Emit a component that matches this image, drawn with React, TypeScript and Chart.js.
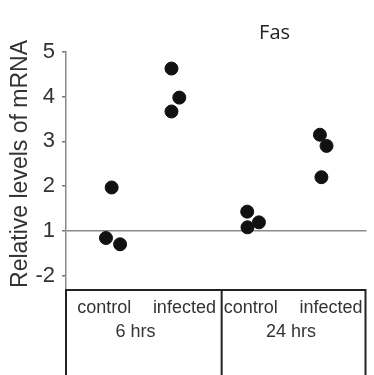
import React, { useEffect, useRef } from "react";
import { Chart, registerables } from "chart.js";

Chart.register(...registerables);

// y tick values and their shown labels (value 0 is shown as "-2", fold-change style)
const yTickValues = [0, 1, 2, 3, 4, 5];
const yTickLabels = ["-2", "1", "2", "3", "4", "5"];

// data points (x = jittered position along the group axis, y = relative level)
const ctrl6X = [1.52, 1.33, 1.8];
const ctrl6Y = [1.97, 0.84, 0.7];
const inf6X = [3.51, 3.77, 3.51];
const inf6Y = [4.63, 3.98, 3.67];
const ctrl24X = [6.03, 6.04, 6.42];
const ctrl24Y = [1.43, 1.08, 1.19];
const inf24X = [8.45, 8.67, 8.5];
const inf24Y = [3.15, 2.9, 2.2];

// category labels under the plot
const groupLabels = ["control", "infected", "control", "infected"];
const groupLabelX = [1.27, 3.94, 6.15, 8.82];
const timeLabels = ["6 hrs", "24 hrs"];
const timeLabelX = [2.31, 7.49];
const dividerX = 5.18;
const titleText = "Fas";
const titleX = 6.94;
const yTitle = "Relative levels of mRNA";

const toPts = (xs: number[], ys: number[]) => xs.map((x, i) => ({ x, y: ys[i] }));

const decorPlugin = {
  id: "decor",
  afterDraw(chart: any) {
    const { ctx, chartArea, scales } = chart;
    const xs = scales.x;
    const H = chart.height;
    ctx.save();
    // box under the plot
    ctx.strokeStyle = "#222";
    ctx.lineWidth = 2;
    ctx.beginPath();
    ctx.moveTo(chartArea.left - 1, chartArea.bottom + 1);
    ctx.lineTo(chartArea.right, chartArea.bottom + 1);
    const vx = [chartArea.left, xs.getPixelForValue(dividerX), chartArea.right - 1];
    vx.forEach((x) => {
      ctx.moveTo(x, chartArea.bottom);
      ctx.lineTo(x, H);
    });
    ctx.stroke();
    // group labels
    ctx.fillStyle = "#333";
    ctx.textAlign = "center";
    ctx.textBaseline = "middle";
    ctx.font = "18px 'Liberation Sans', Arial, sans-serif";
    groupLabels.forEach((t, i) => {
      ctx.fillText(t, xs.getPixelForValue(groupLabelX[i]), chartArea.bottom + 19);
    });
    timeLabels.forEach((t, i) => {
      ctx.fillText(t, xs.getPixelForValue(timeLabelX[i]), chartArea.bottom + 43);
    });
    // title
    ctx.font = "20px 'Open Sans', sans-serif";
    ctx.fillStyle = "#222";
    ctx.fillText(titleText, xs.getPixelForValue(titleX), 33);
    // y title
    ctx.fillStyle = "#333";
    ctx.font = "23px 'Liberation Sans', Arial, sans-serif";
    ctx.translate(21, 164);
    ctx.rotate(-Math.PI / 2);
    ctx.fillText(yTitle, 0, 0);
    ctx.restore();
  },
};

export default function App() {
  const ref = useRef<HTMLCanvasElement>(null);
  useEffect(() => {
    if (!ref.current) return;
    const mk = (xs: number[], ys: number[]) => ({
      data: toPts(xs, ys),
      backgroundColor: "#111",
      borderColor: "#111",
      pointRadius: 6.5,
      pointHoverRadius: 6.5,
    });
    const chart = new Chart(ref.current, {
      type: "scatter",
      data: {
        datasets: [mk(ctrl6X, ctrl6Y), mk(inf6X, inf6Y), mk(ctrl24X, ctrl24Y), mk(inf24X, inf24Y)],
      },
      options: {
        animation: false,
        responsive: false,
        devicePixelRatio: 1,
        layout: { padding: { top: 52, bottom: 86, left: 0, right: 0 } },
        plugins: { legend: { display: false }, tooltip: { enabled: false }, title: { display: false } },
        scales: {
          x: { type: "linear", min: 0, max: 10, display: false },
          y: {
            type: "linear",
            min: -0.3,
            max: 5,
            afterBuildTicks: (s: any) => {
              s.ticks = yTickValues.map((v) => ({ value: v }));
            },
            afterFit: (s: any) => {
              s.width = 66;
            },
            ticks: {
              callback: (v: any) => {
                const i = yTickValues.indexOf(Number(v));
                return i >= 0 ? yTickLabels[i] : "";
              },
              color: "#333",
              padding: 7,
              font: { size: 22, family: "'Liberation Sans', Arial, sans-serif" },
            },
            grid: {
              color: (c: any) => (c.tick && c.tick.value === 1 ? "#8a8a8a" : "rgba(0,0,0,0)"),
              lineWidth: 1.5,
              tickColor: "#777",
              tickLength: 4,
            },
            border: { color: "#888", width: 1.5 },
          },
        },
      },
      plugins: [decorPlugin],
    });
    return () => chart.destroy();
  }, []);
  return (
    <div style={{ position: "fixed", left: 0, top: 0, width: 374, height: 375, background: "#fff" }}>
      <canvas ref={ref} width={374} height={375} />
    </div>
  );
}
